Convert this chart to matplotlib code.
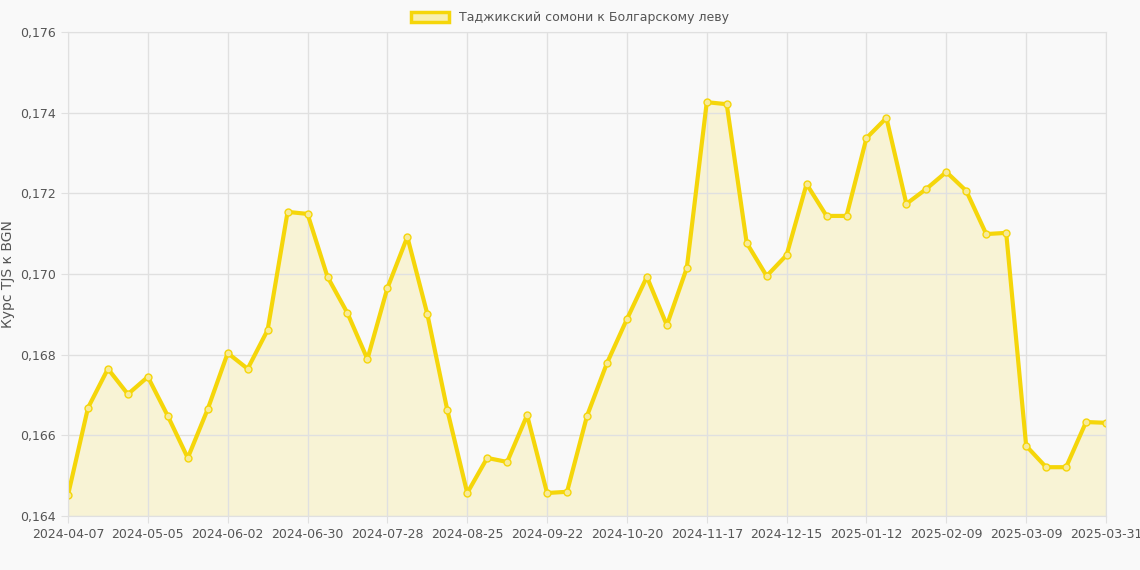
import matplotlib.pyplot as plt
from matplotlib.patches import Patch

rates = [0.16452, 0.16668, 0.16765, 0.16702, 0.16745, 0.16648, 0.16544, 0.16665,
         0.16804, 0.16765, 0.16861, 0.17154, 0.17149, 0.16993, 0.16903, 0.16789,
         0.16965, 0.17092, 0.16901, 0.16663, 0.16457, 0.16544, 0.16534, 0.16650,
         0.16457, 0.16460, 0.16648, 0.16779, 0.16888, 0.16993, 0.16873, 0.17015,
         0.17426, 0.17421, 0.17077, 0.16995, 0.17047, 0.17223, 0.17144, 0.17144,
         0.17337, 0.17387, 0.17174, 0.17211, 0.17253, 0.17206, 0.17099, 0.17102,
         0.16574, 0.16521, 0.16521, 0.16633, 0.16631]
tick_pos = [0, 4, 8, 12, 16, 20, 24, 28, 32, 36, 40, 44, 48, 52]
tick_labels = ['2024-04-07', '2024-05-05', '2024-06-02', '2024-06-30', '2024-07-28',
               '2024-08-25', '2024-09-22', '2024-10-20', '2024-11-17', '2024-12-15',
               '2025-01-12', '2025-02-09', '2025-03-09', '2025-03-31']
y_ticks = [0.164, 0.166, 0.168, 0.170, 0.172, 0.174, 0.176]

line_col = '#f5d60a'
bg = '#f9f9f9'
x = list(range(len(rates)))

fig = plt.figure(figsize=(11.4, 5.7), dpi=100, facecolor=bg)
ax = fig.add_axes([68 / 1140, 1 - 516 / 570, (1106 - 68) / 1140, (516 - 32) / 570])
ax.set_facecolor(bg)
ax.fill_between(x, rates, 0.164, color=line_col, alpha=0.15, linewidth=0)
ax.plot(x, rates, color=line_col, linewidth=3, marker='o', markersize=5,
        markerfacecolor='#f7ea9a', markeredgecolor=line_col, markeredgewidth=1)
ax.set_xlim(0, 52)
ax.set_ylim(0.164, 0.176)
ax.set_xticks(tick_pos)
ax.set_xticklabels(tick_labels)
ax.set_yticks(y_ticks)
ax.set_yticklabels([f'{v:.3f}'.replace('.', ',') for v in y_ticks])
ax.grid(color='#e0e0e0', linewidth=1)
for s in ax.spines.values():
    s.set_color('#e0e0e0')
ax.tick_params(colors='#555555', labelsize=9, length=5, color='#e0e0e0')
ax.set_ylabel('Курс TJS к BGN', color='#555555', fontsize=10)
fig.legend(handles=[Patch(facecolor='#f8efb0', edgecolor=line_col, linewidth=2.5)],
           labels=['Таджикский сомони к Болгарскому леву'], loc='upper center',
           bbox_to_anchor=(0.5, 1.0), frameon=False, fontsize=9, labelcolor='#555555',
           handlelength=3, handleheight=0.9)
fig.savefig('out.png', facecolor=bg)
